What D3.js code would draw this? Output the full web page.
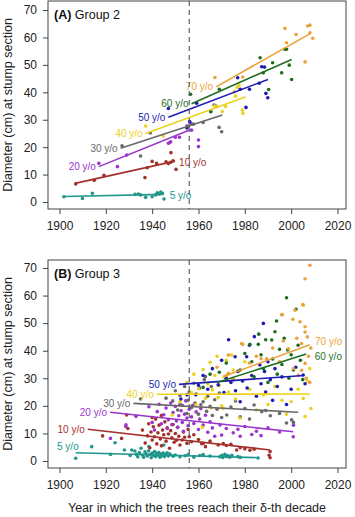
<!DOCTYPE html>
<html>
<head>
<meta charset="utf-8">
<script src="https://cdn.jsdelivr.net/npm/d3@7"></script>
<style>
  body { margin: 0; background: #fff; }
  svg { display: block; font-family: "Liberation Sans", Arial, sans-serif; }
</style>
</head>
<body>
<div id="chart"></div>
<script>
// age classes, same order everywhere below
const ageLabels = ['5 y/o', '10 y/o', '20 y/o', '30 y/o', '40 y/o', '50 y/o', '60 y/o', '70 y/o'];
const yearTicks = [1900, 1920, 1940, 1960, 1980, 2000, 2020];
const diamTicks = [0, 10, 20, 30, 40, 50, 60, 70];
const referenceYear = 1956;

// ---- Group 2: [year, diameter cm]
const a05 = [[1901.9,1.9],[1909.9,1.3],[1914.2,3.2],[1932.6,2.8],[1934,2.9],[1935,2.6],[1937.2,1.7],[1940,1.9],
  [1941.5,2.6],[1942.2,3.4],[1943,2.9],[1943.7,3.6],[1944.4,3.2],[1945.1,1.1]];
const a10 = [[1907,6.6],[1915,7.9],[1919.2,9.7],[1936.9,8.9],[1937.9,12.5],[1940,14.8],[1941.9,14.1],[1946,14.7],
  [1947,14],[1948,14.5],[1948.1,18],[1949,15],[1950.3,11.9]];
const a20 = [[1917,14.1],[1925,12.9],[1929,17.1],[1947,21.4],[1947.5,21.6],[1948,22],[1950,23.6],[1951.8,23.6],
  [1955,27.7],[1956.6,28.7],[1957,26.2],[1960,20.2],[1960,22.6]];
const a30 = [[1927,20.5],[1935,16.8],[1939.2,25.2],[1955.6,27.7],[1957.8,28.4],[1962,29],[1965.3,33],[1966.7,35.4],
  [1967.5,35],[1968.9,27.2],[1970,25.6]];
const a40 = [[1937.2,27.7],[1944.8,24.1],[1966.9,35],[1968,34.8],[1970.3,33],[1971.7,34.8],[1976,38.6],[1976.7,41.8],
  [1977.5,42.6],[1979,33.5],[1979.2,32.3]];
const a50 = [[1947,34.1],[1955,27],[1956.2,29.3],[1959.2,36],[1976.9,45.3],[1978,41.1],[1980.5,34.5],[1982,41.1],
  [1986.2,43.3],[1987.3,49.3],[1988.5,49.2],[1989.1,39.6],[1989.9,38]];
const a60 = [[1956.6,39.3],[1965.3,32.9],[1969,41.1],[1986.6,52.6],[1988,47.1],[1990.3,41],[1992,50.8],[1995.9,47.1],
  [1997.3,55.7],[1998,55.7],[1999.2,49.9],[2000.2,44.7]];
const a70 = [[1967.1,45.4],[1975.5,40.2],[1979.1,45.6],[1997.3,63.3],[1998,58.1],[2002.1,61.1],[2006,51.1],
  [2007.1,64.2],[2008.1,64.5],[2008.1,61.7],[2009.3,59.7]];
// fitted lines: [startYear, startDiam, endYear, endDiam]
const aFits = [[1902,2.0,1945,2.8],[1906.7,6.8,1949.9,14.9],[1917,12.9,1955.9,26.2],[1926.4,19.6,1970.3,31.7],
  [1937.2,25,1980.4,38.4],[1947,30.9,1990,44.7],[1957,35.8,2000.2,52],[1967.6,42,2008.4,61.5]];

// ---- Group 3
const b05 = [[1907,1.0],[1913.9,5.2],[1922,2.4],[1924,6.6],[1928,4.0],[1930.5,2.0],[1931.2,4.0],[1932.5,3.6],
  [1933.2,2.4],[1933.8,1.5],[1934.5,3.1],[1935.2,4.6],[1935.8,2.2],[1936.3,1.4],[1936.9,3.3],[1937.4,2.6],
  [1937.9,1.8],[1938.5,3.7],[1938.6,5.2],[1939.1,2.4],[1939.6,1.2],[1940.1,2.9],[1940.6,2.0],[1941.1,3.4],
  [1941.5,1.6],[1942,2.7],[1942.4,2.1],[1942.9,3.1],[1943.4,1.4],[1943.9,2.5],[1944.3,1.9],[1944.8,2.9],
  [1945,5.8],[1945.3,1.6],[1945.9,2.3],[1946.5,3.0],[1947,1.8],[1947.7,2.5],[1949,1.7],[1950,2.2],[1952,1.5],
  [1954.2,1.9],[1955.5,2.3],[1958,1.4],[1960.6,2.0],[1962,2.3],[1965,1.8],[1969.2,1.5],[1970.1,2.1],
  [1970.5,1.3],[1971.4,2.4],[1972.3,1.6],[1972.7,2.0],[1973.5,1.4],[1974.4,2.1],[1977,1.6],[1978,1.3],[1985.7,1.1]];
const b10 = [[1918.6,9.1],[1926.8,8.2],[1929,16.7],[1929.5,11.8],[1935.8,11.2],[1937,6.5],[1938,9.1],[1938.5,13.5],
  [1939,4.8],[1939.5,10.5],[1940,7.6],[1940,15.8],[1940.5,12.4],[1941,8.8],[1941.5,15.2],[1942,6.2],[1942.5,10.2],
  [1943,13.0],[1943.5,8.0],[1944,5.5],[1944,16.5],[1944.5,11.2],[1945,9.5],[1945.5,14.2],[1946,7.2],[1946.5,12.0],
  [1947,9.8],[1947.5,4.6],[1948,11.0],[1948.5,8.4],[1949,13.2],[1949.5,6.8],[1950,10.0],[1950.5,7.5],[1951,12.2],
  [1951.5,9.0],[1952,5.8],[1953,7.6],[1953.5,10.5],[1954,8.6],[1955,6.4],[1955.5,11.4],[1956,8.8],[1957,7.0],
  [1958,9.5],[1960,7.8],[1961.4,6.3],[1962,6.4],[1963,5.2],[1965,7.2],[1968.5,5.8],[1970.7,6.3],[1972,5.6],
  [1974,6.1],[1976.5,4.0],[1978,4.8],[1980,4.4],[1982.2,3.9],[1984,4.3],[1990.9,3.4],[1990.9,1.2],[1990.5,2.1]];
const b20 = [[1922,8.2],[1928.6,12.5],[1928.7,13.1],[1933,16.2],[1938.6,19.7],[1940,14.0],[1941,11.2],[1942.2,17.9],
  [1943,20.6],[1944,13.5],[1945,16.8],[1946,19.2],[1946.5,11.8],[1947,15.0],[1948,21.0],[1948.5,13.2],[1949,17.6],
  [1950,19.8],[1950.5,14.5],[1951,12.2],[1951.5,16.4],[1952,20.5],[1952.5,18.2],[1953,14.0],[1953.5,10.8],
  [1954,17.0],[1954.5,21.8],[1955,15.6],[1955.5,12.8],[1956,18.8],[1957,16.0],[1957.5,20.2],[1958,13.6],
  [1959,17.8],[1960,11.4],[1960.5,15.2],[1961,19.0],[1962,13.0],[1963,16.6],[1964,10.4],[1965,14.2],[1966,12.0],
  [1967,9.0],[1969.3,13.1],[1970,9.4],[1972,11.8],[1975,10.2],[1977,11.5],[1978,9.0],[1980,12.5],[1983,9.6],
  [1985,10.8],[1987,9.2],[1990,12.0],[1995,10.5],[2000.9,8.8],[2001,13.0]];
const b30 = [[1935,22.5],[1946,22.8],[1948.9,21.8],[1950,25.5],[1951,18.5],[1952,23.8],[1953,20.2],[1954,27.0],
  [1955,17.2],[1955.5,22.0],[1956,25.0],[1957,19.4],[1958,28.2],[1958.5,21.0],[1959,24.3],[1960,17.0],
  [1960.5,26.5],[1961,20.4],[1962,21.5],[1962.5,29.5],[1963,30.6],[1963.5,18.0],[1964,23.5],[1965,19.8],
  [1965.5,27.0],[1966,16.5],[1967,22.2],[1968,18.8],[1969,24.6],[1970,15.8],[1972.2,16.7],[1974,19.6],
  [1976,21.8],[1978,16.0],[1980,19.0],[1982,15.2],[1984,20.3],[1987.3,17.9],[1989,18.3],[1991,16.4],
  [1995,17.2],[1998,13.8],[2000.2,14.9],[2001,14.0]];
const b40 = [[1948.7,16.7],[1952,21.5],[1955,28.5],[1957,24.8],[1958,31.5],[1959,20.5],[1960,26.2],[1961.7,12.2],
  [1962,33.2],[1963,22.8],[1964,28.0],[1965,35.8],[1965.5,19.2],[1966,25.8],[1967,31.0],[1968,38.0],[1968.5,23.0],
  [1969,27.4],[1970,20.0],[1970.7,19.1],[1971,30.5],[1972,36.5],[1973,25.0],[1974.3,38.4],[1975,33.0],[1976,22.5],
  [1977.9,15.5],[1979,29.0],[1980,36.0],[1982,26.0],[1985,18.5],[1988,24.0],[1990,20.5],[1993,27.0],[1996,22.0],
  [1998,17.0],[2000,21.5],[2003,26.0],[2005.2,22.7],[2006,16.1],[2007,29.0],[2008,33.5],[2008.5,19.0]];
const b50 = [[1952.4,22.5],[1955,24.0],[1958.8,24.0],[1960,27.5],[1962,31.0],[1964,26.0],[1966,33.5],[1968.5,27.6],
  [1970,36.5],[1971,24.8],[1972,30.0],[1973,44.0],[1974,28.5],[1975.8,37.8],[1976,25.5],[1977,32.5],[1978,21.5],
  [1979,29.0],[1980.8,37.8],[1981,26.5],[1982,42.0],[1983,31.0],[1984.1,45.1],[1985,23.5],[1986.5,34.8],
  [1987,28.0],[1988,49.9],[1988.5,32.5],[1989,25.0],[1990,36.0],[1991,29.5],[1992,22.0],[1993,33.5],[1994,27.0],
  [1996,30.5],[1998,20.5],[2000,26.0],[2002,34.0],[2005.2,31.2],[2006,28.0]];
const b60 = [[1962,26.7],[1965,31.5],[1969,32.2],[1972,35.5],[1975,29.5],[1978,33.0],[1980,39.0],[1982.2,42.3],
  [1983,36.0],[1984,30.5],[1985.8,42.3],[1986,46.0],[1987,38.5],[1988,33.5],[1989,44.0],[1990,28.5],[1991.6,43.9],
  [1992,37.0],[1993,46.9],[1993.7,50.8],[1994,31.5],[1995,40.5],[1996,35.0],[1997,44.5],[1998,59.2],[1998.5,40.3],
  [1999,30.0],[2000,38.5],[2001,33.0],[2002.1,55.0],[2003,42.0],[2004,36.5],[2005,29.5]];
const b70 = [[1968,34.0],[1972.2,31.1],[1972.9,38.4],[1973,31.8],[1975,29.5],[1978.6,42.6],[1979.1,42.3],[1982,35.5],
  [1985,38.0],[1987,37.1],[1989.4,37.1],[1992,41.0],[1995,36.0],[1995.9,53.0],[1996.2,53.1],[1996.6,43.5],
  [1998.8,40.7],[2000.7,51.4],[2001,33.5],[2001.7,54.7],[2002.4,44.5],[2003.1,31.1],[2003.8,50.5],[2004.5,32.9],
  [2004.5,42.6],[2005,56.7],[2005.2,56.6],[2006,66.1],[2006,48.7],[2006,35.4],[2006,46.8],[2006.5,30.0],
  [2007,45.0],[2007.5,38.0],[2008.1,71.0],[2008,28.5],[2008.5,41.0]];
const bFits = [[1907,3.0,1986,1.2],[1912.2,11.5,1990.9,4.0],[1921.8,17.7,2000.9,10.6],[1931.9,20.9,2003,17.7],
  [1942,24.2,2008,24.3],[1951.6,27.8,2005.5,31],[1968,28.5,2006.5,38.8],[1971,30.7,2008,42.2]];

const colors = ['#20978c', '#a3302b', '#9a35cc', '#686868', '#ecd21e', '#1c1cb2', '#1f6e1f', '#eba23a'];

const W = 355, H = 517;
const svg = d3.select('#chart').append('svg').attr('width', W).attr('height', H);

// labelAtEnd: label right of the line end instead of left of its start
// nudge: extra [dx, dy] px for a label
const panels = [
  { tag: '(A)', name: ' Group 2', top: 1, bottom: 209, yDom: [-2.55, 73.3],
    points: [a05, a10, a20, a30, a40, a50, a60, a70], fits: aFits,
    labelAtEnd: [true, true, false, false, false, false, false, false],
    nudge: [[2, 1.5], [0, 1], [0, 0], [0, 0], [0, 0], [0, 0], [0, 0], [0, 0]] },
  { tag: '(B)', name: ' Group 3', top: 260, bottom: 468, yDom: [-2.54, 72.9],
    points: [b05, b10, b20, b30, b40, b50, b60, b70], fits: bFits,
    labelAtEnd: [false, false, false, false, false, false, true, true],
    nudge: [[6, -6], [0, 0], [0, 0], [0, 0], [0, 0], [0, 0], [4.5, 2.7], [1.3, -3.5]] }
];

const left = 48, right = 346;

panels.forEach(p => {
  const x = d3.scaleLinear().domain([1895.04, 2023.67]).range([left, right]);
  const y = d3.scaleLinear().domain(p.yDom).range([p.bottom, p.top]);
  const g = svg.append('g');

  // points
  p.points.forEach((pts, i) => {
    g.append('g').selectAll('circle')
      .data(pts)
      .join('circle')
      .attr('cx', d => x(d[0]))
      .attr('cy', d => y(d[1]))
      .attr('r', 1.8)
      .attr('fill', colors[i]);
  });

  // fitted lines
  g.append('g').selectAll('line')
    .data(p.fits)
    .join('line')
    .attr('x1', d => x(d[0])).attr('y1', d => y(d[1]))
    .attr('x2', d => x(d[2])).attr('y2', d => y(d[3]))
    .attr('stroke', (d, i) => colors[i])
    .attr('stroke-width', 1.6);

  // labels next to the lines
  g.append('g').selectAll('text')
    .data(p.fits)
    .join('text')
    .attr('x', (d, i) => (p.labelAtEnd[i] ? x(d[2]) + 4 : x(d[0]) - 3) + p.nudge[i][0])
    .attr('y', (d, i) => (p.labelAtEnd[i] ? y(d[3]) : y(d[1])) + 3.5 + p.nudge[i][1])
    .attr('text-anchor', (d, i) => p.labelAtEnd[i] ? 'start' : 'end')
    .attr('font-size', 10)
    .attr('fill', (d, i) => colors[i])
    .text((d, i) => ageLabels[i]);

  // dashed reference year
  g.append('line')
    .attr('x1', x(referenceYear)).attr('x2', x(referenceYear))
    .attr('y1', p.top).attr('y2', p.bottom)
    .attr('stroke', '#555').attr('stroke-width', 1.1)
    .attr('stroke-dasharray', '5,4');

  // box
  g.append('rect')
    .attr('x', left).attr('y', p.top)
    .attr('width', right - left).attr('height', p.bottom - p.top)
    .attr('fill', 'none').attr('stroke', '#444').attr('stroke-width', 1);

  const xAxis = g.append('g')
    .attr('transform', `translate(0,${p.bottom})`)
    .call(d3.axisBottom(x).tickValues(yearTicks).tickFormat(d3.format('d')).tickSize(5).tickPadding(7.5));
  const yAxis = g.append('g')
    .attr('transform', `translate(${left},0)`)
    .call(d3.axisLeft(y).tickValues(diamTicks).tickSize(5).tickPadding(6));
  [xAxis, yAxis].forEach(a => {
    a.select('.domain').remove();
    a.selectAll('line').attr('stroke', '#444');
    a.selectAll('text').attr('font-size', 12).attr('fill', '#222')
      .attr('font-family', '"Liberation Sans", Arial, sans-serif');
  });

  // panel title
  const t = g.append('text')
    .attr('x', 54).attr('y', p.top + 17.5)
    .attr('font-size', 12.5).attr('fill', '#111');
  t.append('tspan').attr('font-weight', 'bold').text(p.tag);
  t.append('tspan').text(p.name);

  // y title
  g.append('text')
    .attr('transform', `translate(12,${(p.top + p.bottom) / 2}) rotate(-90)`)
    .attr('text-anchor', 'middle')
    .attr('font-size', 12.5).attr('fill', '#222')
    .text('Diameter (cm) at stump section');
});

svg.append('text')
  .attr('x', (left + right) / 2).attr('y', 512)
  .attr('text-anchor', 'middle')
  .attr('font-size', 12.5).attr('fill', '#222')
  .text('Year in which the trees reach their δ-th decade');
</script>
</body>
</html>
